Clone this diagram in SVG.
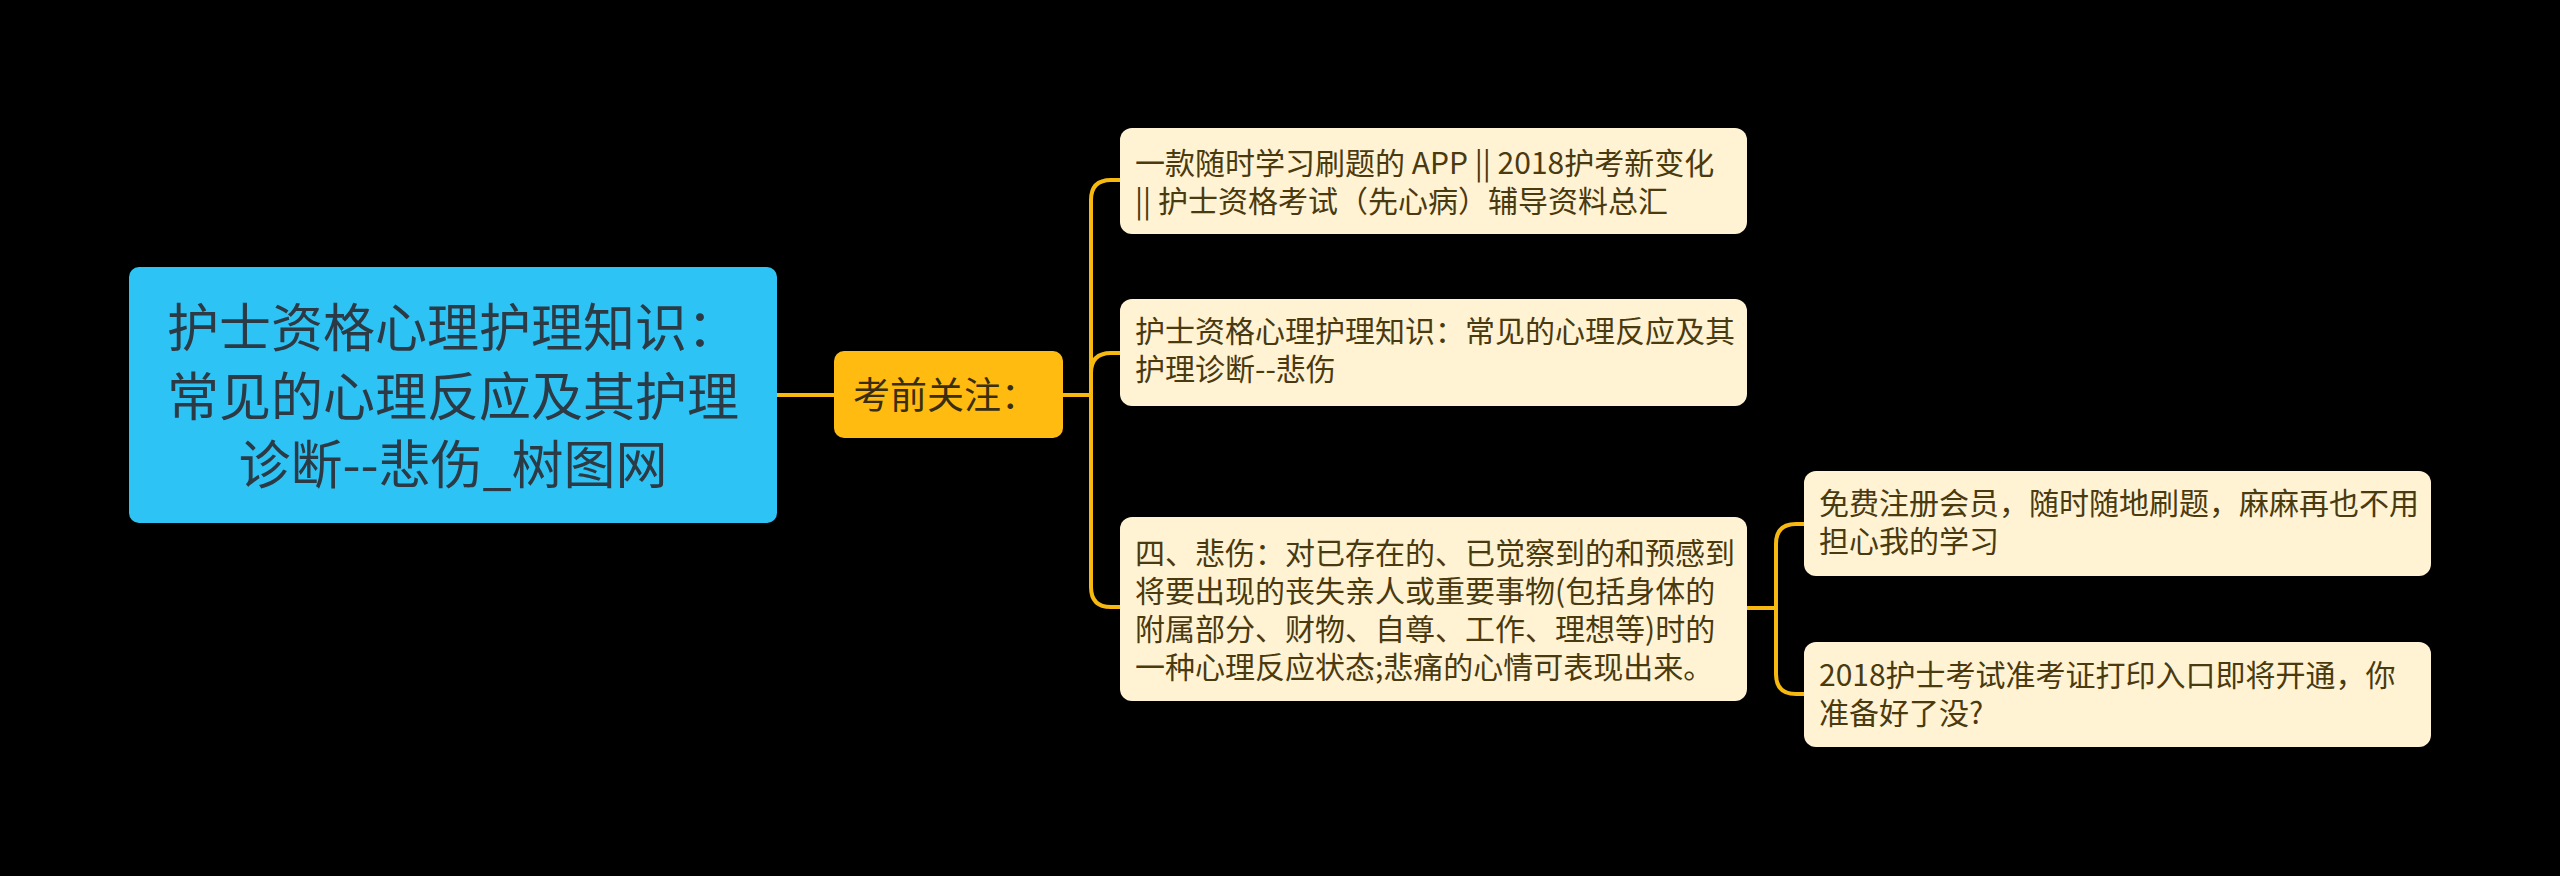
<svg xmlns="http://www.w3.org/2000/svg" width="2560" height="876" viewBox="0 0 2560 876">
<style>
.cn{font-family:"Noto Sans CJK SC","Noto Sans",sans-serif;}
.leaf rect{fill:#FFF3D4;}
.leaf text{fill:#4A3A10;font-size:30px;}
.conn path{fill:none;stroke:#F7B90F;stroke-width:4;stroke-linecap:round;stroke-linejoin:round;}
</style>
<rect x="0" y="0" width="2560" height="876" fill="#000"/>
<g class="conn">
<path d="M777 395 H834"/>
<path d="M1063 395 H1091 V200 Q1091 180 1111 180 H1120"/>
<path d="M1063 395 H1091 V373 Q1091 353 1111 353 H1120"/>
<path d="M1063 395 H1091 V587 Q1091 607 1111 607 H1120"/>
<path d="M1747 608 H1776 V544 Q1776 524 1796 524 H1804"/>
<path d="M1747 608 H1776 V674 Q1776 694 1796 694 H1804"/>
</g>
<g id="root" class="cn">
<rect x="129" y="267" width="648" height="256" rx="10" fill="#2EC3F5"/>
<text x="453" y="347" font-size="52" fill="#2B3A44" text-anchor="middle">护士资格心理护理知识：</text>
<text x="453" y="416" font-size="52" fill="#2B3A44" text-anchor="middle">常见的心理反应及其护理</text>
<text x="453" y="484" font-size="52" fill="#2B3A44" text-anchor="middle">诊断--悲伤_树图网</text>
</g>
<g id="focus" class="cn">
<rect x="834" y="351" width="229" height="87" rx="10" fill="#FFBB10"/>
<text x="853" y="409" font-size="37" fill="#3A2E10">考前关注：</text>
</g>
<g id="n1" class="leaf cn">
<rect x="1120" y="128" width="627" height="106" rx="12"/>
<text x="1135" y="174">一款随时学习刷题的 APP || 2018护考新变化</text>
<text x="1135" y="212">|| 护士资格考试（先心病）辅导资料总汇</text>
</g>
<g id="n2" class="leaf cn">
<rect x="1120" y="299" width="627" height="107" rx="12"/>
<text x="1135" y="342">护士资格心理护理知识：常见的心理反应及其</text>
<text x="1135" y="380">护理诊断--悲伤</text>
</g>
<g id="n3" class="leaf cn">
<rect x="1120" y="517" width="627" height="184" rx="12"/>
<text x="1135" y="564">四、悲伤：对已存在的、已觉察到的和预感到</text>
<text x="1135" y="602">将要出现的丧失亲人或重要事物(包括身体的</text>
<text x="1135" y="640">附属部分、财物、自尊、工作、理想等)时的</text>
<text x="1135" y="678">一种心理反应状态;悲痛的心情可表现出来。</text>
</g>
<g id="n4" class="leaf cn">
<rect x="1804" y="471" width="627" height="105" rx="12"/>
<text x="1819" y="514">免费注册会员，随时随地刷题，麻麻再也不用</text>
<text x="1819" y="552">担心我的学习</text>
</g>
<g id="n5" class="leaf cn">
<rect x="1804" y="642" width="627" height="105" rx="12"/>
<text x="1819" y="686">2018护士考试准考证打印入口即将开通，你</text>
<text x="1819" y="724">准备好了没?</text>
</g>
</svg>
